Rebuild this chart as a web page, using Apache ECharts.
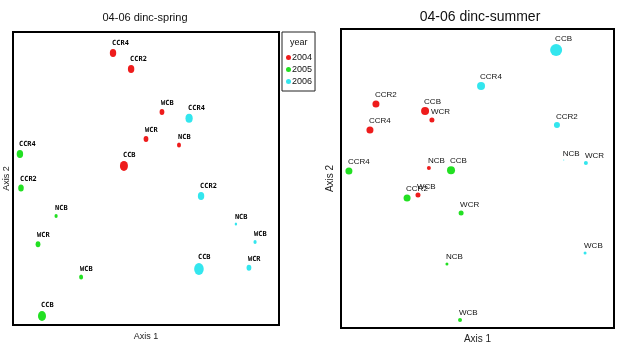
<!DOCTYPE html>
<html>
<head>
<meta charset="utf-8">
<script src="https://cdn.jsdelivr.net/npm/echarts@6/dist/echarts.min.js"></script>
<style>
html,body{margin:0;padding:0;background:#fff;}
#main{width:624px;height:352px;}
</style>
</head>
<body>
<div id="main"></div>
<script>
// site order used by every series
var sites = ['CCR4', 'CCR2', 'WCB', 'WCR', 'NCB', 'CCB'];
var years = ['2004', '2005', '2006'];

// spring ordination scores (axis 1, axis 2)
var spring2004 = [[37.6, 92.8], [44.4, 87.4], [56.0, 72.7], [50.0, 63.5], [62.4, 61.4], [41.7, 54.3]];
var spring2005 = [[2.6, 58.4], [3.0, 46.8], [25.6, 16.4], [9.4, 27.6], [16.2, 37.2], [10.9, 3.1]];
var spring2006 = [[66.2, 70.6], [70.7, 44.0], [91.0, 28.3], [88.7, 19.5], [83.8, 34.5], [69.9, 19.1]];
// bubble magnitude
var spring2004Mag = [8, 8, 6, 6, 5, 10];
var spring2005Mag = [8, 7, 5, 6, 4, 10];
var spring2006Mag = [9, 8, 4, 6, 3, 12];

// summer ordination scores
var summer2004 = [[10.6, 66.2], [12.8, 74.9], [28.2, 44.5], [33.3, 69.6], [32.2, 53.5], [30.8, 72.6]];
var summer2005 = [[2.9, 52.5], [24.2, 43.5], [43.6, 2.7], [44.0, 38.5], [38.8, 21.4], [40.3, 52.8]];
var summer2006 = [[51.3, 80.9], [79.1, 67.9], [89.4, 25.1], [89.7, 55.2], [81.6, 56.2], [78.8, 93.0]];
var summer2004Mag = [7, 7, 5, 5, 4, 8];
var summer2005Mag = [7, 7, 4, 5, 3, 8];
var summer2006Mag = [8, 6, 3, 4, 1, 12];

var colors = ['#ee1c1c', '#22e022', '#33e6ee'];
var sans = "'Liberation Sans', Arial, sans-serif";

function makeSeries(name, pts, mag, color, idx){
	var data = [];
	for(var i=0;i<sites.length;i++){
		data.push({ name: sites[i], value: [pts[i][0], pts[i][1], mag[i]] });
	}
	var lbl;
	if(idx == 0){
		//左图：等宽小字
		lbl = { fontFamily: 'DejaVu Sans Mono', fontSize: 7, fontWeight: 'bold', color: '#000', distance: 2 };
	}else{
		lbl = { fontFamily: sans, fontSize: 8, color: '#111', distance: 1.5 };
	}
	lbl.show = true;
	lbl.position = 'top';
	lbl.align = 'left';
	lbl.offset = [-1, 0];
	lbl.formatter = '{b}';
	return {
		name: name,
		type: 'scatter',
		xAxisIndex: idx,
		yAxisIndex: idx,
		data: data,
		symbol: 'circle',
		symbolSize: function(v){
			// left panel dots are a little taller than wide
			return idx == 0 ? [v[2] * 0.8, v[2]] : v[2];
		},
		itemStyle: { color: color, opacity: 1 },
		label: lbl,
		emphasis: { disabled: true }
	};
}

function axisPair(idx, xname, yname, fs, xgap, ygap){
	return {
		x: {
			type: 'value', gridIndex: idx, min: 0, max: 100,
			axisLine: { show: false }, axisTick: { show: false },
			axisLabel: { show: false }, splitLine: { show: false },
			name: xname, nameLocation: 'middle', nameGap: xgap,
			nameTextStyle: { fontFamily: sans, fontSize: fs, color: '#222' }
		},
		y: {
			type: 'value', gridIndex: idx, min: 0, max: 100,
			axisLine: { show: false }, axisTick: { show: false },
			axisLabel: { show: false }, splitLine: { show: false },
			name: yname, nameLocation: 'middle', nameGap: ygap,
			nameTextStyle: { fontFamily: sans, fontSize: fs, color: '#222' }
		}
	};
}

var a0 = axisPair(0, 'Axis 1', 'Axis 2', 9, 7, 2);
var a1 = axisPair(1, 'Axis 1', 'Axis 2', 10, 6, 6);

var chart = echarts.init(document.getElementById('main'));
var option = {
	animation: false,
	backgroundColor: '#fff',
	title: [{
		text: '04-06 dinc-spring',
		left: 145, top: 12, padding: 0, textAlign: 'center',
		textStyle: { fontFamily: sans, fontSize: 11, fontWeight: 'normal', color: '#111' }
	}, {
		text: '04-06 dinc-summer',
		left: 480, top: 10, padding: 0, textAlign: 'center',
		textStyle: { fontFamily: sans, fontSize: 14, fontWeight: 'normal', color: '#111' }
	}],
	legend: {
		data: years,
		orient: 'vertical',
		left: 282, top: 32,
		padding: [21, 3, 5, 4],
		itemGap: 3,
		itemWidth: 5, itemHeight: 5,
		icon: 'circle',
		borderColor: '#222', borderWidth: 1,
		textStyle: { fontFamily: sans, fontSize: 9, color: '#111', padding: [0, 0, 0, -4] }
	},
	graphic: [{
		type: 'text', left: 290, top: 38,
		style: { text: 'year', fontFamily: sans, fontSize: 9, fill: '#111' }
	}],
	grid: [
		{ left: 13, top: 32, width: 266, height: 293, show: true, borderColor: '#000', borderWidth: 2 },
		{ left: 341, top: 29, width: 273, height: 299, show: true, borderColor: '#000', borderWidth: 2 }
	],
	xAxis: [a0.x, a1.x],
	yAxis: [a0.y, a1.y],
	series: [
		makeSeries('2004', spring2004, spring2004Mag, colors[0], 0),
		makeSeries('2005', spring2005, spring2005Mag, colors[1], 0),
		makeSeries('2006', spring2006, spring2006Mag, colors[2], 0),
		makeSeries('2004', summer2004, summer2004Mag, colors[0], 1),
		makeSeries('2005', summer2005, summer2005Mag, colors[1], 1),
		makeSeries('2006', summer2006, summer2006Mag, colors[2], 1)
	]
};
chart.setOption(option);
</script>
</body>
</html>
